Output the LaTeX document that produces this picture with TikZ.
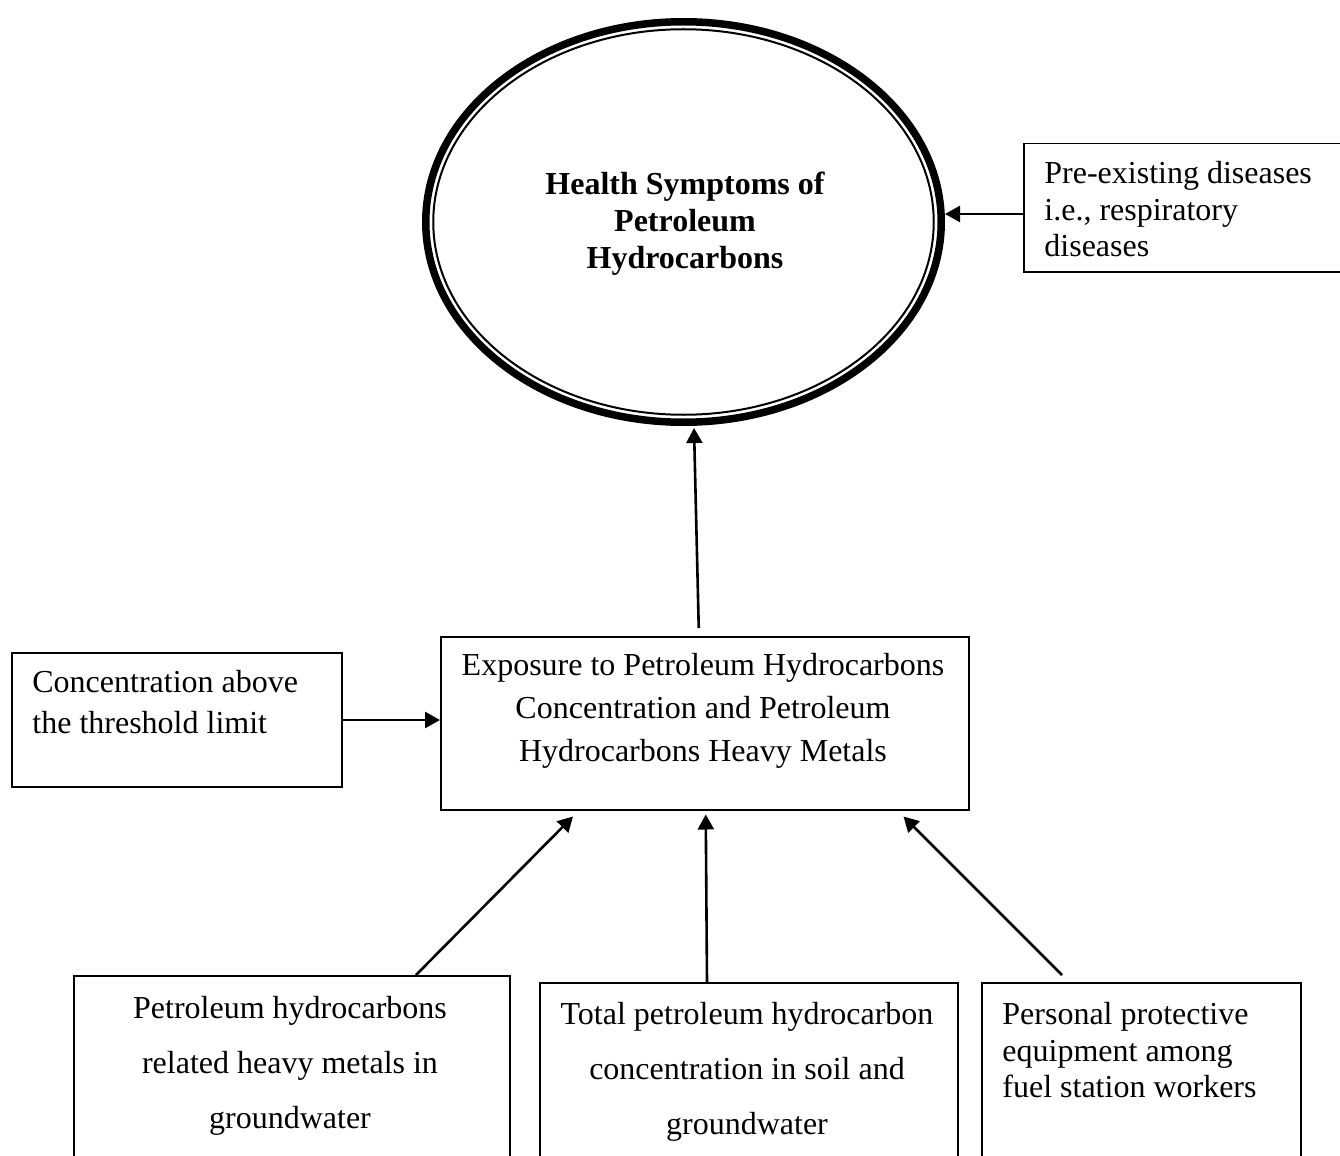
\documentclass[tikz,border=0pt]{standalone}
\usepackage{fontspec}
\setmainfont{Liberation Serif}
\usetikzlibrary{arrows.meta,shapes.geometric}
\begin{document}
\begin{tikzpicture}[x=0.5pt,y=-0.5pt,
  box/.style={draw, line width=0.75pt, inner sep=0pt, anchor=north west},
  bbox/.style={draw, line width=1pt, inner sep=0pt, anchor=north west},
  arr/.style={line width=1.3pt, -{Triangle[length=7.5pt,width=8pt]}},
  txt/.style={inner sep=0pt, font=\fontsize{16}{#1}\selectfont},
  txt/.default=18.5pt]
\useasboundingbox (0,0) rectangle (1340,1156);
\clip (0,0) rectangle (1340,1156);
% ellipse
\node[draw, ellipse, line width=3.75pt, minimum width=257.75pt, minimum height=200.25pt, inner sep=0pt] (el) at (683.5,222) {};
\node[draw, ellipse, line width=1pt, minimum width=250.25pt, minimum height=192.75pt, inner sep=0pt] (eli) at (683.5,222) {};
\node[inner sep=0pt, font={\fontsize{16}{18.5pt}\selectfont\bfseries}, align=center, anchor=north] (eltxt) at (685,172) {Health Symptoms of\\Petroleum\\Hydrocarbons};
% boxes
\node[box, minimum width=159.5pt, minimum height=64pt] (pre) at (1023,143) {};
\node[txt=18.25pt, align=left, anchor=north west] (pretxt) at (1044,161) {Pre-existing diseases\\i.e., respiratory\\diseases};
\node[box, minimum width=165pt, minimum height=67pt] (conc) at (11,652) {};
\node[txt=20.5pt, align=left, anchor=north west] (conctxt) at (32,670) {Concentration above\\the threshold limit};
\node[box, minimum width=264pt, minimum height=86.5pt] (exp) at (440,636) {};
\node[txt=21.5pt, align=center, anchor=north] (exptxt) at (703,653) {Exposure to Petroleum Hydrocarbons\\Concentration and Petroleum\\Hydrocarbons Heavy Metals};
\node[bbox, minimum width=218pt, minimum height=120pt] (b1) at (73,975) {};
\node[txt=27.5pt, align=center, anchor=north] (b1txt) at (290,996) {Petroleum hydrocarbons\\related heavy metals in\\groundwater};
\node[bbox, minimum width=209pt, minimum height=120pt] (b2) at (539,982) {};
\node[txt=27.5pt, align=center, anchor=north] (b2txt) at (747,1002) {Total petroleum hydrocarbon\\concentration in soil and\\groundwater};
\node[bbox, minimum width=159.5pt, minimum height=120pt] (b3) at (981,982) {};
\node[txt=18.25pt, align=left, anchor=north west] (b3txt) at (1002,1002) {Personal protective\\equipment among\\fuel station workers};
% arrows
\draw[arr] (pre.west |- 0,214) -- (el.east |- 0,214);
\draw[arr] ([xshift=-3pt,yshift=4pt]exp.north) -- ([xshift=5.25pt,yshift=-1pt]el.south);
\draw[arr] (conc.east |- 0,720) -- (exp.west |- 0,720);
\draw[arr] ([xshift=171.5pt]b1.north west) -- ([xshift=66.5pt,yshift=-3pt]exp.south west);
\draw[arr] ([xshift=-21pt]b2.north) -- ([xshift=0.5pt,yshift=-2pt]exp.south);
\draw[arr] ([xshift=40.5pt,yshift=3.5pt]b3.north west) -- ([xshift=-33pt,yshift=-3pt]exp.south east);
\end{tikzpicture}
\end{document}
